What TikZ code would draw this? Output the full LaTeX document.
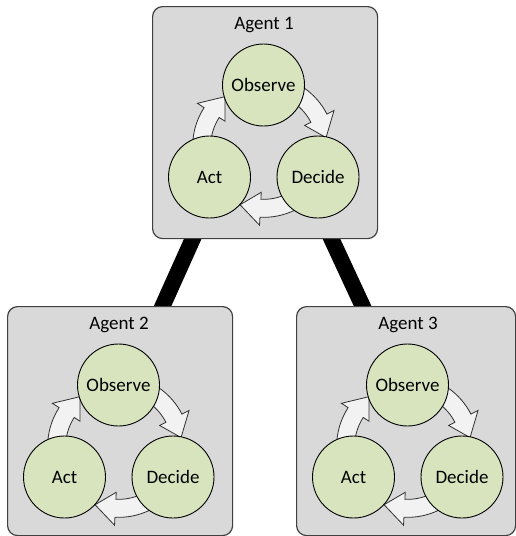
\documentclass[tikz,border=0pt]{standalone}
\usepackage{fontspec}
\setmainfont{Carlito}
\usetikzlibrary{backgrounds}
\definecolor{boxgray}{HTML}{D9D9D9}
\definecolor{edgegray}{HTML}{404040}
\definecolor{arrowedge}{HTML}{303030}
\definecolor{stagegreen}{HTML}{D7E4BD}
\definecolor{arrowgray}{HTML}{F2F2F2}
\tikzset{
	agent/.style={draw=edgegray, line width=1.2pt, fill=boxgray, rounded corners=10pt, inner sep=0pt},
	agenttitle/.style={font=\fontsize{19}{23}\selectfont},
	stage/.style={circle, draw=black, line width=0.9pt, fill=stagegreen, minimum size=82pt, inner sep=0pt, font=\fontsize{19}{23}\selectfont},
	cyclearrow/.style={draw=arrowedge, line width=0.8pt, fill=arrowgray},
	link/.style={line width=16pt, black}
}
\newcommand{\agentbox}[6]{%
	\node[agent, minimum width=#4pt, minimum height=#5pt, anchor=north west] (#1) at (#2,#3) {};
	\node[agenttitle] (#1-title) at ([shift={(112pt,-19pt)}]#1.north west) {#6};
	\coordinate (#1-o) at ([shift={(111.5pt,-79pt)}]#1.north west);
	\coordinate (#1-a) at ([shift={(57.5pt,-171pt)}]#1.north west);
	\coordinate (#1-d) at ([shift={(166pt,-171pt)}]#1.north west);
	\coordinate (#1-hub) at (barycentric cs:#1-o=1,#1-a=1,#1-d=1);
	\begin{scope}[shift={(#1-hub)}]
		\foreach \tip in {8,128,248}{
			\pgfmathsetmacro{\base}{\tip+19}
			\pgfmathsetmacro{\tail}{\tip+75}
			\draw[cyclearrow] (\tail:71pt) arc[start angle=\tail, end angle=\base, radius=71pt]
				-- (\base:79pt) -- (\tip:63pt) -- (\base:46pt) -- (\base:53pt)
				arc[start angle=\base, end angle=\tail, radius=53pt] -- cycle;
		}
	\end{scope}
	\node[stage] (#1-observe) at (#1-o) {Observe};
	\node[stage] (#1-act) at (#1-a) {Act};
	\node[stage] (#1-decide) at (#1-d) {Decide};
}

\begin{document}
\begin{tikzpicture}[x=1pt, y=1pt]
	\useasboundingbox (0,0) rectangle (516,-536);
	\agentbox{agent1}{152}{-6}{225}{232}{Agent 1}
	\agentbox{agent2}{7}{-306}{225}{229}{Agent 2}
	\agentbox{agent3}{296}{-306}{219}{229}{Agent 3}
	\begin{scope}[on background layer]
		\draw[link, shorten <=-4pt, shorten >=-4pt] ([xshift=-72.5pt]agent1.south) -- ([xshift=42.5pt]agent2.north);
		\draw[link, shorten <=-4pt, shorten >=-4pt] ([xshift=66.5pt]agent1.south) -- ([xshift=-43.5pt]agent3.north);
	\end{scope}
\end{tikzpicture}
\end{document}
